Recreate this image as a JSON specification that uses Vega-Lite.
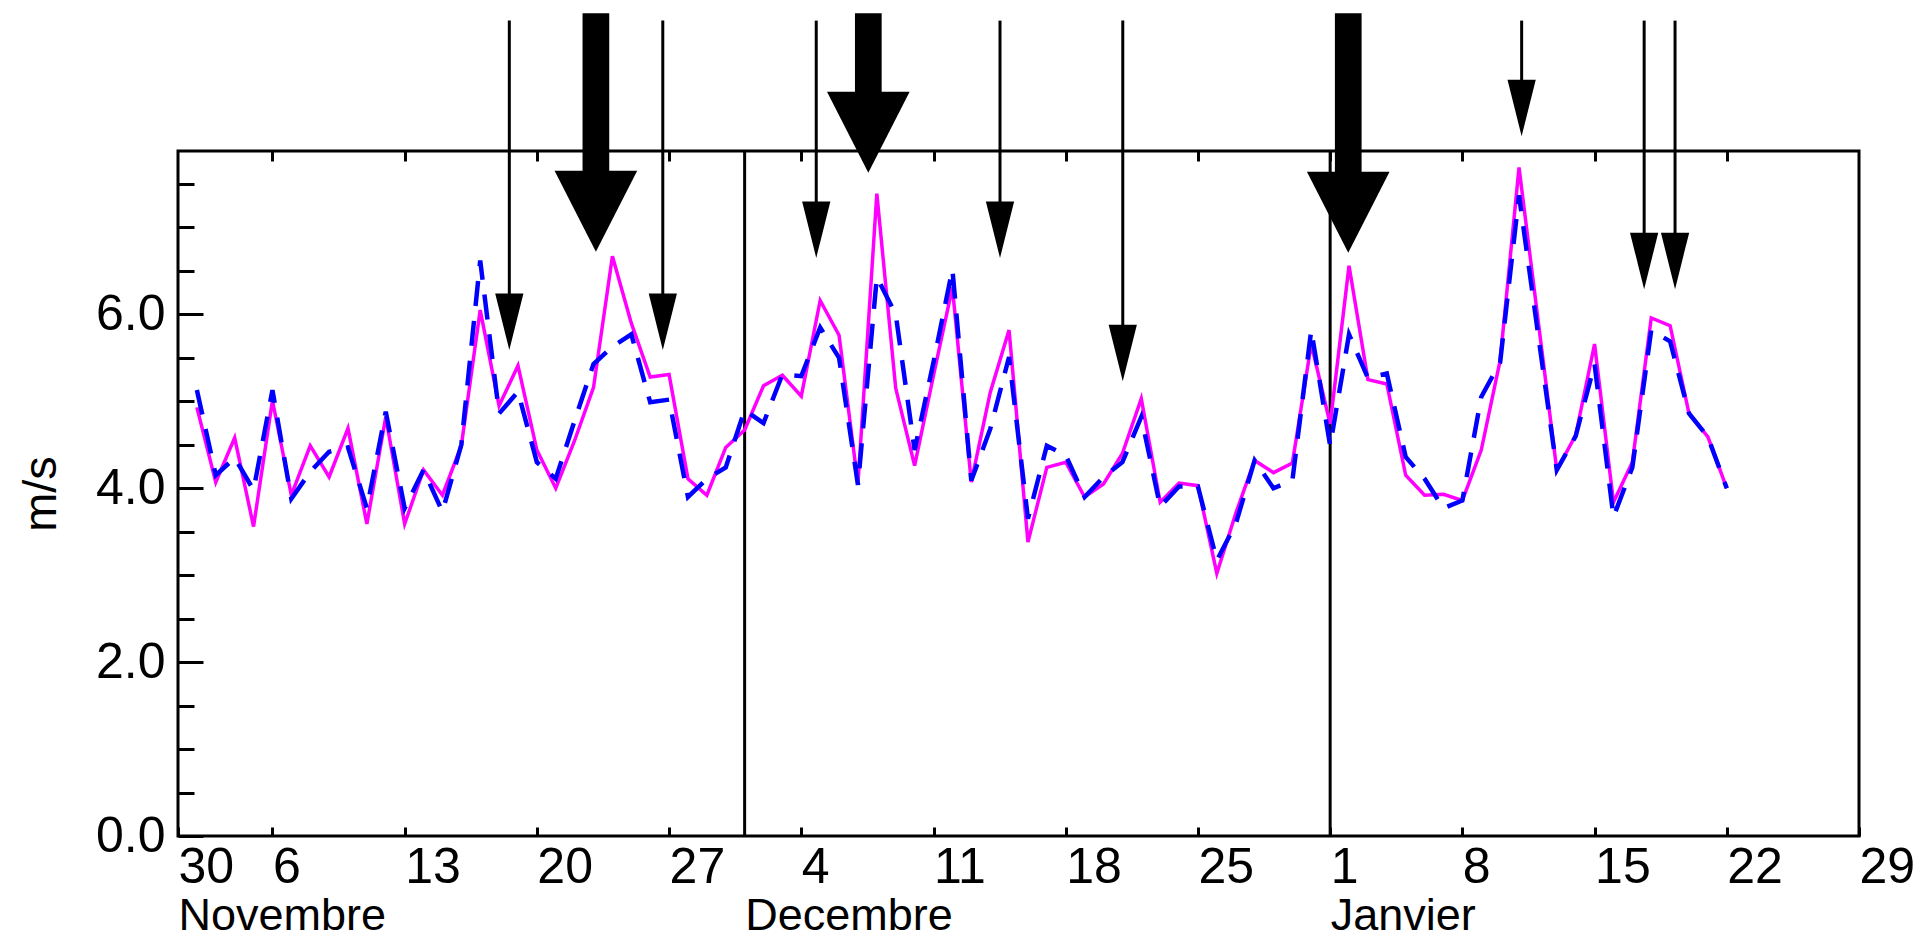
{
  "$schema": "https://vega.github.io/schema/vega-lite/v6.json",
  "width": 1681,
  "height": 685,
  "autosize": {"type": "none"},
  "padding": {"left": 178, "top": 151, "right": 60, "bottom": 104},
  "background": "white",
  "config": {
    "view": {"stroke": "black", "strokeWidth": 3},
    "axis": {"domain": false, "grid": false, "tickColor": "black", "tickWidth": 3, "labelColor": "black", "titleColor": "black", "labelOverlap": false, "labelFlush": false, "labelBound": false, "labelLimit": 0}
  },
  "datasets": {
    "wind": [
      {"date": "2004-11-02", "speed_a": 4.93, "speed_b": 5.13},
      {"date": "2004-11-03", "speed_a": 4.07, "speed_b": 4.15},
      {"date": "2004-11-04", "speed_a": 4.58, "speed_b": 4.35},
      {"date": "2004-11-05", "speed_a": 3.56, "speed_b": 3.98},
      {"date": "2004-11-06", "speed_a": 5.01, "speed_b": 5.13},
      {"date": "2004-11-07", "speed_a": 3.92, "speed_b": 3.88},
      {"date": "2004-11-08", "speed_a": 4.49, "speed_b": 4.19},
      {"date": "2004-11-09", "speed_a": 4.13, "speed_b": 4.42},
      {"date": "2004-11-10", "speed_a": 4.69, "speed_b": 4.47},
      {"date": "2004-11-11", "speed_a": 3.59, "speed_b": 3.77},
      {"date": "2004-11-12", "speed_a": 4.82, "speed_b": 4.88},
      {"date": "2004-11-13", "speed_a": 3.59, "speed_b": 3.77},
      {"date": "2004-11-14", "speed_a": 4.21, "speed_b": 4.21},
      {"date": "2004-11-15", "speed_a": 3.92, "speed_b": 3.73},
      {"date": "2004-11-16", "speed_a": 4.49, "speed_b": 4.50},
      {"date": "2004-11-17", "speed_a": 6.05, "speed_b": 6.62},
      {"date": "2004-11-18", "speed_a": 4.95, "speed_b": 4.86},
      {"date": "2004-11-19", "speed_a": 5.41, "speed_b": 5.11},
      {"date": "2004-11-20", "speed_a": 4.44, "speed_b": 4.30},
      {"date": "2004-11-21", "speed_a": 4.00, "speed_b": 4.11},
      {"date": "2004-11-22", "speed_a": 4.55, "speed_b": 4.78},
      {"date": "2004-11-23", "speed_a": 5.16, "speed_b": 5.43},
      {"date": "2004-11-24", "speed_a": 6.67, "speed_b": 5.63},
      {"date": "2004-11-25", "speed_a": 5.90, "speed_b": 5.77},
      {"date": "2004-11-26", "speed_a": 5.28, "speed_b": 4.99},
      {"date": "2004-11-27", "speed_a": 5.31, "speed_b": 5.02},
      {"date": "2004-11-28", "speed_a": 4.11, "speed_b": 3.90},
      {"date": "2004-11-29", "speed_a": 3.92, "speed_b": 4.11},
      {"date": "2004-11-30", "speed_a": 4.47, "speed_b": 4.24},
      {"date": "2004-12-01", "speed_a": 4.67, "speed_b": 4.90},
      {"date": "2004-12-02", "speed_a": 5.18, "speed_b": 4.75},
      {"date": "2004-12-03", "speed_a": 5.30, "speed_b": 5.31},
      {"date": "2004-12-04", "speed_a": 5.06, "speed_b": 5.29},
      {"date": "2004-12-05", "speed_a": 6.16, "speed_b": 5.85},
      {"date": "2004-12-06", "speed_a": 5.76, "speed_b": 5.50},
      {"date": "2004-12-07", "speed_a": 4.05, "speed_b": 4.04},
      {"date": "2004-12-08", "speed_a": 7.39, "speed_b": 6.43},
      {"date": "2004-12-09", "speed_a": 5.15, "speed_b": 6.00},
      {"date": "2004-12-10", "speed_a": 4.26, "speed_b": 4.44},
      {"date": "2004-12-11", "speed_a": 5.30, "speed_b": 5.45},
      {"date": "2004-12-12", "speed_a": 6.31, "speed_b": 6.52},
      {"date": "2004-12-13", "speed_a": 4.07, "speed_b": 4.09},
      {"date": "2004-12-14", "speed_a": 5.10, "speed_b": 4.68},
      {"date": "2004-12-15", "speed_a": 5.82, "speed_b": 5.51},
      {"date": "2004-12-16", "speed_a": 3.38, "speed_b": 3.65},
      {"date": "2004-12-17", "speed_a": 4.24, "speed_b": 4.49},
      {"date": "2004-12-18", "speed_a": 4.30, "speed_b": 4.38},
      {"date": "2004-12-19", "speed_a": 3.90, "speed_b": 3.90},
      {"date": "2004-12-20", "speed_a": 4.05, "speed_b": 4.13},
      {"date": "2004-12-21", "speed_a": 4.40, "speed_b": 4.30},
      {"date": "2004-12-22", "speed_a": 5.03, "speed_b": 4.82},
      {"date": "2004-12-23", "speed_a": 3.84, "speed_b": 3.79},
      {"date": "2004-12-24", "speed_a": 4.06, "speed_b": 4.02},
      {"date": "2004-12-25", "speed_a": 4.03, "speed_b": 4.02},
      {"date": "2004-12-26", "speed_a": 3.02, "speed_b": 3.17},
      {"date": "2004-12-27", "speed_a": 3.71, "speed_b": 3.59},
      {"date": "2004-12-28", "speed_a": 4.32, "speed_b": 4.32},
      {"date": "2004-12-29", "speed_a": 4.18, "speed_b": 4.00},
      {"date": "2004-12-30", "speed_a": 4.29, "speed_b": 4.09},
      {"date": "2004-12-31", "speed_a": 5.66, "speed_b": 5.82},
      {"date": "2005-01-01", "speed_a": 4.74, "speed_b": 4.49},
      {"date": "2005-01-02", "speed_a": 6.56, "speed_b": 5.77},
      {"date": "2005-01-03", "speed_a": 5.25, "speed_b": 5.27},
      {"date": "2005-01-04", "speed_a": 5.20, "speed_b": 5.32},
      {"date": "2005-01-05", "speed_a": 4.15, "speed_b": 4.36},
      {"date": "2005-01-06", "speed_a": 3.92, "speed_b": 4.11},
      {"date": "2005-01-07", "speed_a": 3.93, "speed_b": 3.77},
      {"date": "2005-01-08", "speed_a": 3.86, "speed_b": 3.86},
      {"date": "2005-01-09", "speed_a": 4.44, "speed_b": 5.05},
      {"date": "2005-01-10", "speed_a": 5.47, "speed_b": 5.45},
      {"date": "2005-01-11", "speed_a": 7.69, "speed_b": 7.37},
      {"date": "2005-01-12", "speed_a": 5.95, "speed_b": 5.79},
      {"date": "2005-01-13", "speed_a": 4.21, "speed_b": 4.21},
      {"date": "2005-01-14", "speed_a": 4.61, "speed_b": 4.60},
      {"date": "2005-01-15", "speed_a": 5.66, "speed_b": 5.43},
      {"date": "2005-01-16", "speed_a": 3.84, "speed_b": 3.67},
      {"date": "2005-01-17", "speed_a": 4.30, "speed_b": 4.24},
      {"date": "2005-01-18", "speed_a": 5.96, "speed_b": 5.82},
      {"date": "2005-01-19", "speed_a": 5.87, "speed_b": 5.69},
      {"date": "2005-01-20", "speed_a": 4.86, "speed_b": 4.86},
      {"date": "2005-01-21", "speed_a": 4.59, "speed_b": 4.59},
      {"date": "2005-01-22", "speed_a": 4.00, "speed_b": 4.00}
    ],
    "months": [
      {"date": "2004-12-01"},
      {"date": "2005-01-01"}
    ],
    "arrows": [
      {"date": "2004-11-18T13:00:00Z", "tip": 5.59, "kind": "thin"},
      {"date": "2004-11-26T16:00:00Z", "tip": 5.59, "kind": "thin"},
      {"date": "2004-12-04T19:00:00Z", "tip": 6.65, "kind": "thin"},
      {"date": "2004-12-14T12:30:00Z", "tip": 6.65, "kind": "thin"},
      {"date": "2004-12-21T00:30:00Z", "tip": 5.23, "kind": "thin"},
      {"date": "2005-01-11T03:20:00Z", "tip": 8.05, "kind": "thin"},
      {"date": "2005-01-17T15:00:00Z", "tip": 6.29, "kind": "thin"},
      {"date": "2005-01-19T06:15:00Z", "tip": 6.29, "kind": "thin"},
      {"date": "2004-11-23T03:00:00Z", "tip": 6.72, "kind": "thick"},
      {"date": "2004-12-07T13:10:00Z", "tip": 7.63, "kind": "thick"},
      {"date": "2005-01-01T23:00:00Z", "tip": 6.71, "kind": "thick"}
    ]
  },
  "layer": [
    {
      "data": {"name": "months"},
      "mark": {"type": "rule", "color": "black", "strokeWidth": 3},
      "encoding": {
        "x": {
          "field": "date", "type": "temporal",
          "scale": {"type": "utc", "domain": [{"year": 2004, "month": 11, "date": 1, "utc": true}, {"year": 2005, "month": 1, "date": 29, "utc": true}]},
          "axis": {
            "orient": "bottom", "title": null, "ticks": false,
            "values": [{"year": 2004, "month": 11, "date": 1, "utc": true}, {"year": 2004, "month": 12, "date": 1, "utc": true}, {"year": 2005, "month": 1, "date": 1, "utc": true}],
            "labelExpr": "utcmonth(datum.value) == 10 ? 'Novembre' : (utcmonth(datum.value) == 11 ? 'Decembre' : 'Janvier')",
            "labelFont": "Liberation Sans", "labelFontSize": 45, "labelAlign": "left", "labelBaseline": "alphabetic", "labelPadding": 93, "labelLimit": 0
          }
        }
      }
    },
    {
      "data": {"name": "wind"},
      "mark": {"type": "line", "color": "#ff00ff", "strokeWidth": 3.5},
      "encoding": {
        "x": {
          "field": "date", "type": "temporal",
          "scale": {"type": "utc", "domain": [{"year": 2004, "month": 11, "date": 1, "utc": true}, {"year": 2005, "month": 1, "date": 29, "utc": true}]},
          "axis": {
            "orient": "bottom", "title": null,
            "values": [
              {"year": 2004, "month": 11, "date": 1, "utc": true},
              {"year": 2004, "month": 11, "date": 6, "utc": true},
              {"year": 2004, "month": 11, "date": 13, "utc": true},
              {"year": 2004, "month": 11, "date": 20, "utc": true},
              {"year": 2004, "month": 11, "date": 27, "utc": true},
              {"year": 2004, "month": 12, "date": 4, "utc": true},
              {"year": 2004, "month": 12, "date": 11, "utc": true},
              {"year": 2004, "month": 12, "date": 18, "utc": true},
              {"year": 2004, "month": 12, "date": 25, "utc": true},
              {"year": 2005, "month": 1, "date": 1, "utc": true},
              {"year": 2005, "month": 1, "date": 8, "utc": true},
              {"year": 2005, "month": 1, "date": 15, "utc": true},
              {"year": 2005, "month": 1, "date": 22, "utc": true},
              {"year": 2005, "month": 1, "date": 29, "utc": true}
            ],
            "labelExpr": "(utcmonth(datum.value) == 10 && utcdate(datum.value) == 1) ? '30' : ('' + utcdate(datum.value))",
            "tickSize": -9,
            "labelFont": "Liberation Sans Narrow, Liberation Sans", "labelFontSize": 50, "labelAlign": "left", "labelBaseline": "alphabetic", "labelPadding": 55
          }
        },
        "y": {
          "field": "speed_a", "type": "quantitative",
          "scale": {"domain": [0, 7.88], "nice": false, "zero": false},
          "axis": {
            "orient": "left", "values": [0, 2, 4, 6], "format": ".1f", "tickSize": -25,
            "labelFont": "Liberation Sans", "labelFontSize": 50, "labelBaseline": "middle", "labelPadding": 38,
            "title": "m/s", "titleFont": "Liberation Sans", "titleFontSize": 47, "titleFontWeight": "normal",
            "titleAngle": 270, "titleBaseline": "alphabetic", "titleAlign": "center", "titleX": -123, "titleY": 342.5
          }
        }
      }
    },
    {
      "data": {"name": "wind"},
      "mark": {"type": "line", "color": "#0000ff", "strokeWidth": 4.5, "strokeDash": [25, 15]},
      "encoding": {
        "x": {
          "field": "date", "type": "temporal",
          "scale": {"type": "utc", "domain": [{"year": 2004, "month": 11, "date": 1, "utc": true}, {"year": 2005, "month": 1, "date": 29, "utc": true}]},
          "axis": {
            "orient": "top", "title": null, "labels": false, "tickSize": -10,
            "values": [
              {"year": 2004, "month": 11, "date": 6, "utc": true},
              {"year": 2004, "month": 11, "date": 13, "utc": true},
              {"year": 2004, "month": 11, "date": 20, "utc": true},
              {"year": 2004, "month": 11, "date": 27, "utc": true},
              {"year": 2004, "month": 12, "date": 4, "utc": true},
              {"year": 2004, "month": 12, "date": 11, "utc": true},
              {"year": 2004, "month": 12, "date": 18, "utc": true},
              {"year": 2004, "month": 12, "date": 25, "utc": true},
              {"year": 2005, "month": 1, "date": 1, "utc": true},
              {"year": 2005, "month": 1, "date": 8, "utc": true},
              {"year": 2005, "month": 1, "date": 15, "utc": true},
              {"year": 2005, "month": 1, "date": 22, "utc": true}
            ]
          }
        },
        "y": {
          "field": "speed_b", "type": "quantitative",
          "scale": {"domain": [0, 7.88], "nice": false, "zero": false},
          "axis": {
            "orient": "left", "title": null, "labels": false, "tickSize": -16,
            "values": [0.5, 1, 1.5, 2.5, 3, 3.5, 4.5, 5, 5.5, 6.5, 7, 7.5]
          }
        }
      }
    },
    {
      "data": {"name": "arrows"},
      "transform": [{"filter": "datum.kind === 'thin'"}],
      "mark": {"type": "rule", "color": "black", "strokeWidth": 3, "yOffset": -30},
      "encoding": {
        "x": {"field": "date", "type": "temporal", "scale": {"type": "utc", "domain": [{"year": 2004, "month": 11, "date": 1, "utc": true}, {"year": 2005, "month": 1, "date": 29, "utc": true}]}, "axis": null},
        "y": {"field": "tip", "type": "quantitative", "scale": {"domain": [0, 7.88], "nice": false, "zero": false}, "axis": null},
        "y2": {"datum": 9.38}
      }
    },
    {
      "data": {"name": "arrows"},
      "transform": [{"filter": "datum.kind === 'thin'"}],
      "mark": {"type": "point", "shape": "M-0.5,-2L0.5,-2L0,0Z", "size": 3192, "filled": true, "color": "black", "opacity": 1, "strokeWidth": 0},
      "encoding": {
        "x": {"field": "date", "type": "temporal", "scale": {"type": "utc", "domain": [{"year": 2004, "month": 11, "date": 1, "utc": true}, {"year": 2005, "month": 1, "date": 29, "utc": true}]}, "axis": null},
        "y": {"field": "tip", "type": "quantitative", "scale": {"domain": [0, 7.88], "nice": false, "zero": false}, "axis": null}
      }
    },
    {
      "data": {"name": "arrows"},
      "transform": [{"filter": "datum.kind === 'thick'"}],
      "mark": {"type": "rule", "color": "black", "strokeWidth": 26.7, "yOffset": -60},
      "encoding": {
        "x": {"field": "date", "type": "temporal", "scale": {"type": "utc", "domain": [{"year": 2004, "month": 11, "date": 1, "utc": true}, {"year": 2005, "month": 1, "date": 29, "utc": true}]}, "axis": null},
        "y": {"field": "tip", "type": "quantitative", "scale": {"domain": [0, 7.88], "nice": false, "zero": false}, "axis": null},
        "y2": {"datum": 9.465}
      }
    },
    {
      "data": {"name": "arrows"},
      "transform": [{"filter": "datum.kind === 'thick'"}],
      "mark": {"type": "point", "shape": "M-1.02,-2L1.02,-2L0,0Z", "size": 6561, "filled": true, "color": "black", "opacity": 1, "strokeWidth": 0},
      "encoding": {
        "x": {"field": "date", "type": "temporal", "scale": {"type": "utc", "domain": [{"year": 2004, "month": 11, "date": 1, "utc": true}, {"year": 2005, "month": 1, "date": 29, "utc": true}]}, "axis": null},
        "y": {"field": "tip", "type": "quantitative", "scale": {"domain": [0, 7.88], "nice": false, "zero": false}, "axis": null}
      }
    }
  ],
  "resolve": {"axis": {"x": "independent", "y": "independent"}}
}
